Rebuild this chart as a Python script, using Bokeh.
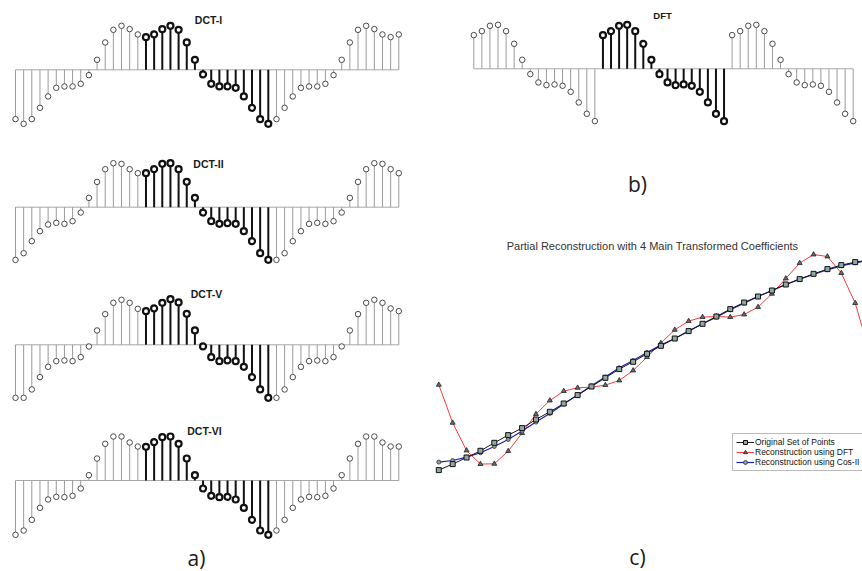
from bokeh.plotting import figure
from bokeh.models import Range1d, Label, Legend, LegendItem
from bokeh.layouts import row, column
from bokeh.embed import file_html
from bokeh.resources import INLINE

# ---------------- data ----------------
BOLD_START, BOLD_END = 16, 32   # the original 16-sample block (drawn bold)

dct1_vals = [-148, -162, -148, -114, -80, -54, -50, -50, -42, -16, 30, 82, 120, 132, 122, 106,
             98, 106, 122, 132, 120, 82, 30, -14, -42, -50, -50, -54, -80, -114, -148, -162,
             -148, -114, -80, -54, -50, -50, -42, -16, 30, 82, 120, 132, 122, 106, 98, 106]
dct2_vals = [-158, -138, -102, -72, -52, -47, -50, -42, -16, 28, 76, 114, 132, 130, 114, 102,
             102, 114, 130, 132, 114, 76, 28, -16, -42, -50, -48, -50, -72, -102, -138, -158,
             -158, -138, -102, -72, -50, -47, -50, -42, -16, 28, 76, 114, 132, 130, 114, 102]
dct5_vals = [-159, -159, -134, -97, -66, -49, -47, -49, -37, -5, 43, 92, 126, 135, 126, 108,
             101, 109, 126, 137, 127, 93, 43, -5, -37, -49, -47, -49, -66, -97, -134, -159,
             -159, -134, -97, -66, -49, -47, -49, -37, -5, 43, 92, 126, 135, 126, 109, 101]
dct6_vals = [-163, -150, -118, -82, -57, -49, -50, -46, -24, 16, 66, 110, 132, 132, 114, 102,
             101, 115, 130, 132, 110, 66, 16, -24, -46, -50, -49, -57, -82, -118, -150, -163,
             -150, -118, -82, -57, -49, -50, -46, -24, 16, 66, 110, 132, 132, 114, 102, 102]
dft_vals = [101, 113, 129, 132, 113, 75, 27, -16, -41, -49, -47, -51, -69, -101, -135, -157,
            101, 113, 129, 132, 113, 75, 27, -16, -41, -49, -47, -51, -69, -101, -135, -157,
            101, 113, 129, 132, 113, 75, 27, -16, -41, -49, -47, -51, -69, -101, -135, -157]

panel_titles = ["DCT-I", "DCT-II", "DCT-V", "DCT-VI"]

# partial reconstruction (chart c)
orig_pts = [3.7, 9.7, 16.3, 23.0, 31.0, 38.7, 45.7, 54.3, 62.0, 70.3, 78.7, 87.3, 96.0, 104.7, 112.0, 120.0,
            128.0, 135.3, 142.7, 150.0, 157.3, 164.7, 171.3, 177.3, 183.3, 189.3, 194.7, 200.0, 204.7, 208.7, 211.7, 214.0]
dft_rec = [89.0, 51.0, 23.3, 9.7, 10.0, 22.7, 40.7, 59.7, 73.3, 82.7, 86.0, 86.7, 88.7, 93.3, 103.3, 116.7,
           130.7, 144.0, 152.7, 156.7, 157.3, 156.7, 159.3, 166.7, 180.0, 195.3, 210.7, 219.3, 217.3, 200.7, 170.7, 123.3]
cos_rec = [11.7, 13.3, 16.7, 21.0, 27.3, 34.3, 42.7, 51.7, 60.3, 69.7, 78.7, 88.0, 96.7, 106.0, 113.3, 121.3,
           128.7, 135.3, 142.7, 150.0, 156.7, 164.0, 170.7, 177.3, 183.3, 189.3, 194.7, 199.3, 204.0, 208.0, 211.0, 213.3]
chart_title = "Partial Reconstruction with 4 Main Transformed Coefficients"
legend_labels = ["Original Set of Points", "Reconstruction using DFT", "Reconstruction using Cos-II"]

# ---------------- layout helpers ----------------
LABEL_FONT = "Open Sans"
SANS = "Liberation Sans"


def blank_fig(w, h, xr, yr):
    p = figure(width=w, height=h, x_range=Range1d(*xr), y_range=Range1d(*yr),
               output_backend="svg", toolbar_location=None, min_border=0)
    p.axis.visible = False
    p.grid.visible = False
    p.outline_line_color = None
    p.background_fill_color = "white"
    return p


class Geo:
    """maps page pixels <-> data for one panel (layout only)."""
    def __init__(self, left, top, w, h, x0, dx, base, scale):
        self.left, self.top, self.w, self.h = left, top, w, h
        self.x0, self.dx, self.base, self.scale = x0, dx, base, scale

    def xr(self):
        return ((self.left - self.x0) / self.dx, (self.left + self.w - self.x0) / self.dx)

    def yr(self):
        return ((self.base - (self.top + self.h)) * self.scale, (self.base - self.top) * self.scale)

    def pt(self, px, py):
        return (px - self.x0) / self.dx, (self.base - py) * self.scale


def stem_panel(vals, geo, title, title_pos, title_size):
    p = blank_fig(geo.w, geo.h, geo.xr(), geo.yr())
    idx = list(range(len(vals)))
    gi = [i for i in idx if not (BOLD_START <= i < BOLD_END)]
    bi = [i for i in idx if BOLD_START <= i < BOLD_END]
    gv = [vals[i] for i in gi]
    bv = [vals[i] for i in bi]
    p.line([idx[0], idx[-1]], [0, 0], line_color="#a8a8a8", line_width=1)
    p.segment(x0=gi, y0=[0] * len(gi), x1=gi, y1=gv, line_color="#9a9a9a", line_width=1)
    p.segment(x0=bi, y0=[0] * len(bi), x1=bi, y1=bv, line_color="#111111", line_width=2)
    p.scatter(gi, gv, marker="circle", size=5.5, fill_color="white", line_color="#4a4a4a", line_width=1)
    p.scatter(bi, bv, marker="circle", size=6, fill_color="white", line_color="#111111", line_width=2.2)
    tx, ty = geo.pt(*title_pos)
    p.add_layout(Label(x=tx, y=ty, text=title, text_font=SANS, text_font_style="bold",
                       text_font_size=title_size, text_color="#1a1a1a",
                       text_align="center", text_baseline="middle"))
    return p


# ---------------- left column: a) ----------------
DCT_X0, DCT_DX = 15.0, 8.155
left_geos = [Geo(0, 0, 428, 140, DCT_X0, DCT_DX, 69.3, 3),
             Geo(0, 140, 428, 135, DCT_X0, DCT_DX, 206.7, 3),
             Geo(0, 275, 428, 135, DCT_X0, DCT_DX, 344.3, 3),
             Geo(0, 410, 428, 161, DCT_X0, DCT_DX, 480.0, 3)]
title_pos = [(208, 19), (208, 163.5), (206, 293.5), (204, 430)]
left_vals = [dct1_vals, dct2_vals, dct5_vals, dct6_vals]
left_figs = [stem_panel(v, g, t, tp, "10.5px") for v, g, t, tp in zip(left_vals, left_geos, panel_titles, title_pos)]
ax, ay = left_geos[3].pt(196, 557)
left_figs[3].add_layout(Label(x=ax, y=ay, text="a)", text_font=LABEL_FONT, text_font_size="21px",
                              text_color="#1a1a1a", text_align="center", text_baseline="middle"))

# ---------------- right column: b) ----------------
dft_geo = Geo(428, 0, 434, 200, 473.3, 8.072, 68.3, 3)
p_dft = stem_panel(dft_vals, dft_geo, "DFT", (662, 15), "9.5px")
bx, by = dft_geo.pt(637, 183)
p_dft.add_layout(Label(x=bx, y=by, text="b)", text_font=LABEL_FONT, text_font_size="21px",
                       text_color="#1a1a1a", text_align="center", text_baseline="middle"))

# ---------------- right column: c) ----------------
c_geo = Geo(428, 200, 434, 371, 438.3, 13.88, 473.3, 1)
pc = blank_fig(c_geo.w, c_geo.h, c_geo.xr(), c_geo.yr())
xs = list(range(len(orig_pts)))
l_dft = pc.line(xs, dft_rec, line_color="#ff3a3a", line_width=1)
s_dft = pc.scatter(xs, dft_rec, marker="triangle", size=5, fill_color="#5f6f6f", line_color="#222222", line_width=0.8)
l_cos = pc.line(xs, cos_rec, line_color="#1f1fb0", line_width=1.2)
s_cos = pc.scatter(xs, cos_rec, marker="circle", size=4, fill_color="#8c9c9c", line_color="#333333", line_width=0.8)
l_org = pc.line(xs, orig_pts, line_color="#1a1a1a", line_width=1)
s_org = pc.scatter(xs, orig_pts, marker="square", size=5, fill_color="#8fa8a5", line_color="#111111", line_width=1)

tx, ty = c_geo.pt(652, 245)
pc.add_layout(Label(x=tx, y=ty, text=chart_title, text_font=SANS, text_font_size="11px",
                    text_color="#333333", text_align="center", text_baseline="middle"))
cx, cy = c_geo.pt(637, 556)
pc.add_layout(Label(x=cx, y=cy, text="c)", text_font=LABEL_FONT, text_font_size="21px",
                    text_color="#1a1a1a", text_align="center", text_baseline="middle"))

legend = Legend(items=[LegendItem(label=legend_labels[0], renderers=[l_org, s_org]),
                       LegendItem(label=legend_labels[1], renderers=[l_dft, s_dft]),
                       LegendItem(label=legend_labels[2], renderers=[l_cos, s_cos])],
                location=(304, 100))
legend.label_text_font = SANS
legend.label_text_font_size = "8.5px"
legend.label_text_color = "#111111"
legend.glyph_width = 18
legend.glyph_height = 10
legend.label_height = 10
legend.label_standoff = 1
legend.spacing = 0
legend.padding = 3
legend.margin = 0
legend.border_line_color = "#777777"
legend.border_line_width = 1
legend.background_fill_color = "white"
legend.background_fill_alpha = 1
pc.add_layout(legend)

layout = row(column(*left_figs), column(p_dft, pc))
open("out.html", "w").write(file_html(layout, INLINE))
